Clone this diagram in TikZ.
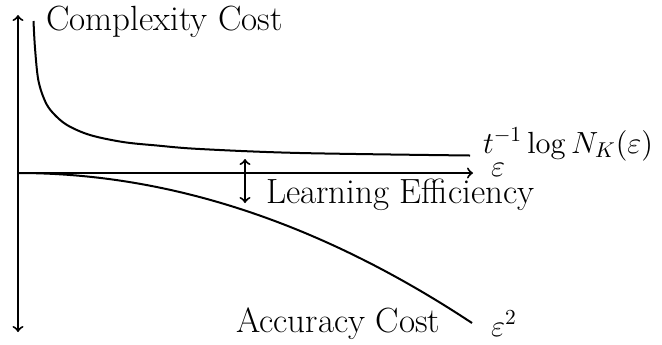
\RequirePackage{fix-cm}
\documentclass[tikz,border=0pt]{standalone}
\begin{document}
\begin{tikzpicture}[x=0.5pt,y=-0.5pt, line width=1pt,
  every node/.style={inner sep=0pt},
  lbl/.style={anchor=base west, font=\fontsize{17.5}{21}\selectfont},
  mlbl/.style={anchor=base west, font=\fontsize{15.3}{18}\selectfont}]
\useasboundingbox (0,0) rectangle (662,344);
\coordinate (O) at (18,173);
\coordinate (xend) at (473,173);
\coordinate (ytop) at (18,15);
\coordinate (ybot) at (18,332);
\draw[<->] (ybot) -- (ytop);
\draw[->] (O) -- (xend);
% complexity cost curve
\draw plot[smooth, tension=0.55] coordinates {(33.5,21) (35,48) (38.3,80) (45,101) (53,113) (67,125) (90,135) (123,142) (157,145.5) (200,149) (300,153) (470,155.5)};
% accuracy cost curve
\draw plot[domain=0:454, samples=80] ({18+\x},{173+150*(\x/454)^2});
% learning efficiency
\coordinate (le1) at (245,159);
\coordinate (le2) at (245,203);
\draw[<->] (le1) -- (le2);
\node[lbl] (cc) at (45,30) {Complexity Cost};
\node[mlbl] (tl) at (482,153) {$t^{-1}\log N_K(\varepsilon)$};
\node[mlbl] (eps) at (490,176) {$\varepsilon$};
\node[lbl] (le) at (265,203) {Learning Efficiency};
\node[lbl] (ac) at (235,332) {Accuracy Cost};
\node[mlbl] (e2) at (490,336) {$\varepsilon^2$};
\end{tikzpicture}
\end{document}
